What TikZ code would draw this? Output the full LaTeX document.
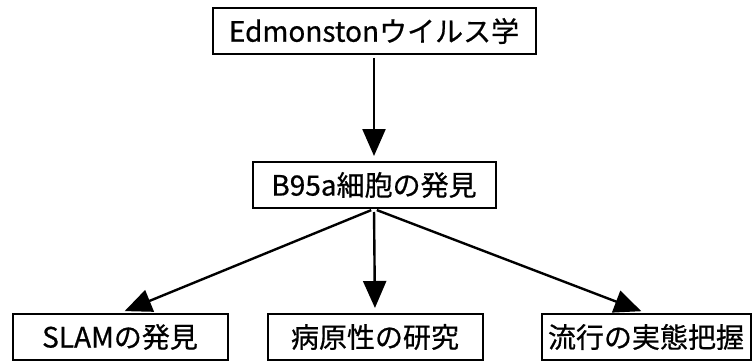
\documentclass[tikz,border=0pt]{standalone}
\usepackage{fontspec}
\setmainfont[FakeBold=0.6]{Noto Sans CJK JP}
\usetikzlibrary{arrows.meta}

\begin{document}
\begin{tikzpicture}[x=1pt,y=-1pt,
    box/.style={draw, line width=2pt, minimum height=46pt, inner sep=0pt,
      font=\fontsize{28}{30}\selectfont},
    arr/.style={-{Triangle[length=27pt,width=23pt]}, line width=2.4pt,
      shorten <=3pt, shorten >=5pt}]
  \useasboundingbox (0,0) rectangle (755,361);
  %boxes
  \node[box, minimum width=323pt] (edm) at (374,31) {Edmonstonウイルス学};
  \node[box, minimum width=243pt] (b95a) at (374,185) {B95a細胞の発見};
  \node[box, minimum width=215pt] (slam) at (120,337) {SLAMの発見};
  \node[box, minimum width=215pt] (patho) at (375,337) {病原性の研究};
  \node[box, minimum width=209pt] (epid) at (646,337) {流行の実態把握};
  %arrows
  \draw[arr] (edm.south) -- (b95a.north);
  \draw[arr] (b95a.south) -- (slam.north);
  \draw[arr] (b95a.south) -- (patho.north);
  \draw[arr] (b95a.south) -- (epid.north);
\end{tikzpicture}
\end{document}
